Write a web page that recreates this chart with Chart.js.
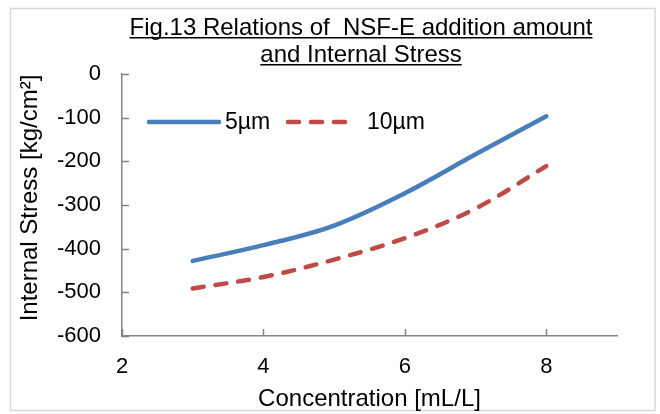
<!DOCTYPE html>
<html lang="en">
<head>
  <meta charset="UTF-8">
  <title>Fig.13</title>
  <script src="https://cdn.jsdelivr.net/npm/chart.js"></script>
  <style>
    html, body { margin: 0; padding: 0; background: #fff; }
    canvas { display: block; }
  </style>
</head>
<body>
  <canvas id="graf" width="660" height="414"></canvas>

  <script>
    /* --- data --- */
    const concentration = [3, 4, 5, 6, 7, 8];
    const stress5um  = [-428, -392, -347, -273, -184, -97];
    const stress10um = [-491, -465, -425, -376, -308, -211];
    const seriesNames = ['5µm', '10µm'];
    const titleLines = ['Fig.13 Relations of  NSF-E addition amount', 'and Internal Stress'];
    const yTitle = 'Internal Stress [kg/cm²]';
    const xTitle = 'Concentration [mL/L]';
    const xRange = [2, 9];      // ticks every 2
    const yRange = [-600, 0];   // ticks every 100

    const FONT = '"Liberation Sans", Arial, sans-serif';
    const AXIS = '#868686';

    /* frame, inner tick marks, underlined title, y title, legend */
    const extras = {
      id: 'extras',
      beforeDraw(chart) {
        const c = chart.ctx;
        c.save();
        c.fillStyle = '#fff';
        c.fillRect(0, 0, chart.width, chart.height);
        c.strokeStyle = '#d9d9d9';
        c.lineWidth = 1.5;
        c.strokeRect(10.5, 8.5, 644.5, 402);
        c.restore();
      },
      afterDraw(chart) {
        const c = chart.ctx, a = chart.chartArea;
        const { x, y } = chart.scales;
        c.save();

        // tick marks drawn inward
        c.strokeStyle = AXIS;
        c.lineWidth = 1.5;
        c.beginPath();
        y.ticks.forEach(t => {
          const py = Math.round(y.getPixelForValue(t.value)) + 0.5;
          c.moveTo(a.left, py); c.lineTo(a.left + 7, py);
        });
        x.ticks.forEach(t => {
          const px = Math.round(x.getPixelForValue(t.value)) + 0.5;
          c.moveTo(px, a.bottom); c.lineTo(px, a.bottom - 7);
        });
        c.stroke();

        // title, underlined
        c.fillStyle = '#000';
        c.font = '24px ' + FONT;
        c.textAlign = 'center';
        c.textBaseline = 'alphabetic';
        const cx = 361;
        [35, 62].forEach((by, i) => {
          const txt = titleLines[i];
          c.fillText(txt, cx, by);
          const w = c.measureText(txt).width;
          c.fillRect(cx - w / 2, by + 2, w, 1.5);
        });

        // y axis title (rotated)
        c.save();
        c.translate(30, 198);
        c.rotate(-Math.PI / 2);
        c.textBaseline = 'middle';
        c.fillText(yTitle, 0, 0);
        c.restore();

        // legend inside the plot
        const ly = 122;
        const items = [
          { x0: 149, x1: 219, tx: 225 },
          { x0: 288, x1: 350, tx: 367 }
        ];
        c.font = '23px ' + FONT;
        c.textAlign = 'left';
        c.textBaseline = 'middle';
        items.forEach((it, i) => {
          const ds = chart.data.datasets[i];
          c.strokeStyle = ds.borderColor;
          c.lineWidth = ds.borderWidth;
          c.lineCap = 'round';
          c.setLineDash(ds.borderDash || []);
          c.beginPath();
          c.moveTo(it.x0, ly); c.lineTo(it.x1, ly);
          c.stroke();
          c.setLineDash([]);
          c.fillText(seriesNames[i], it.tx, ly + 1);
        });

        c.restore();
      }
    };

    new Chart(document.getElementById('graf'), {
      type: 'line',
      data: {
        datasets: [
          {
            label: seriesNames[0],
            data: concentration.map((v, i) => ({ x: v, y: stress5um[i] })),
            borderColor: '#4a7ebb',
            borderWidth: 4.5,
            borderCapStyle: 'round',
            pointRadius: 0,
            tension: 0.35,
            fill: false
          },
          {
            label: seriesNames[1],
            data: concentration.map((v, i) => ({ x: v, y: stress10um[i] })),
            borderColor: '#be4b48',
            borderWidth: 4.5,
            borderDash: [11, 12],
            borderCapStyle: 'round',
            pointRadius: 0,
            tension: 0.35,
            fill: false
          }
        ]
      },
      options: {
        responsive: false,
        animation: false,
        layout: { padding: { top: 74, right: 43, bottom: 0, left: 0 } },
        plugins: {
          legend: { display: false },
          title: { display: false },
          tooltip: { enabled: false }
        },
        scales: {
          x: {
            type: 'linear',
            min: xRange[0],
            max: xRange[1],
            grid: { display: false, drawTicks: false },
            border: { display: true, color: AXIS, width: 1.5 },
            ticks: {
              stepSize: 2,
              includeBounds: false,
              color: '#000',
              padding: 18,
              font: { family: FONT, size: 22 }
            },
            title: {
              display: true,
              text: xTitle,
              color: '#000',
              font: { family: FONT, size: 24 },
              padding: { top: 0, bottom: 0 }
            },
            afterFit: s => { s.height = 78; }
          },
          y: {
            min: yRange[0],
            max: yRange[1],
            grid: { display: false, drawTicks: false },
            border: { display: true, color: AXIS, width: 1.5 },
            ticks: {
              stepSize: 100,
              color: '#000',
              padding: 21,
              font: { family: FONT, size: 22 }
            },
            afterFit: s => { s.width = 122; }
          }
        }
      },
      plugins: [extras]
    });
  </script>
</body>
</html>
